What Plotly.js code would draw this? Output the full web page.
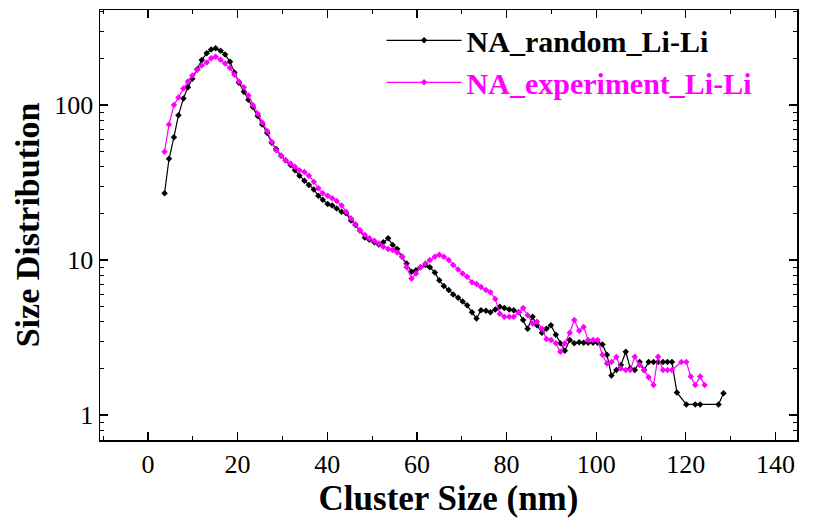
<!DOCTYPE html>
<html>
<head>
<meta charset="utf-8">
<script src="https://cdn.plot.ly/plotly-3.0.1.min.js"></script>
<style>html,body{margin:0;padding:0;background:#fff}#chart{width:820px;height:518px}</style>
</head>
<body>
<div id="chart"></div>
<script>
// NA_random_Li-Li
const randomX = [3.7,4.7,5.8,6.8,7.9,8.9,9.9,11.0,12.0,13.1,14.1,15.1,16.2,17.2,18.3,19.3,20.3,21.4,22.4,23.4,24.5,25.5,26.6,27.6,28.6,29.7,30.7,31.8,32.8,33.8,34.9,35.9,37.0,38.0,39.0,40.1,41.1,42.1,43.2,44.2,45.3,46.3,47.3,48.4,49.4,50.5,51.5,52.5,53.6,54.6,55.6,56.7,57.7,58.8,59.8,60.8,61.9,62.9,64.0,65.0,66.0,67.1,68.1,69.2,70.2,71.2,72.3,73.3,74.3,75.4,76.4,77.5,78.5,79.5,80.6,81.6,82.7,83.7,84.7,85.8,86.8,87.9,88.9,89.9,91.0,92.0,93.0,94.1,95.1,96.2,97.2,98.2,99.3,100.3,101.4,102.4,103.4,104.5,105.5,106.6,107.6,108.6,109.7,110.7,111.7,112.8,113.8,114.9,115.9,116.9,118.0,120.1,122.1,123.2,127.3,128.4];
const randomY = [27,45,62,86,110,130,148,170,195,216,228,232,224,212,190,162,139,122,108,97,85,75,66,57,52,47,44,41,38,35,32.5,30.5,28.5,26,24.5,23,22.5,21.5,20.5,20,18,16.8,15.5,14,13.5,13,12.6,13,13.8,12.5,11.8,10.5,9.5,8.4,8.6,9,9.3,9,8.3,7.4,6.8,6.4,6.0,5.7,5.4,5.1,4.6,4.2,4.75,4.7,4.6,4.8,5.0,4.9,4.8,4.75,4.6,4.1,3.6,4.3,3.8,3.4,3.6,3.8,3.3,2.9,2.6,3.05,2.9,2.95,2.93,2.93,2.93,2.93,2.85,2.45,1.8,1.95,2.1,2.56,2.0,1.95,2.2,1.95,2.2,2.2,2.2,2.2,2.2,2.2,1.4,1.17,1.17,1.17,1.17,1.38];
// NA_experiment_Li-Li
const experimentX = [3.7,4.7,5.8,6.8,7.9,8.9,9.9,11.0,12.0,13.1,14.1,15.1,16.2,17.2,18.3,19.3,20.3,21.4,22.4,23.4,24.5,25.5,26.6,27.6,28.6,29.7,30.7,31.8,32.8,33.8,34.9,35.9,37.0,38.0,39.0,40.1,41.1,42.1,43.2,44.2,45.3,46.3,47.3,48.4,49.4,50.5,51.5,52.5,53.6,54.6,55.6,56.7,57.7,58.8,59.8,60.8,61.9,62.9,64.0,65.0,66.0,67.1,68.1,69.2,70.2,71.2,72.3,73.3,74.3,75.4,76.4,77.5,78.5,79.5,80.6,81.6,82.7,83.7,84.7,85.8,86.8,87.9,88.9,89.9,91.0,92.0,93.0,94.1,95.1,96.2,97.2,98.2,99.3,100.3,101.4,102.4,103.4,104.5,105.5,106.6,107.6,108.6,109.7,110.7,111.7,112.8,113.8,114.9,115.9,116.9,119.0,120.1,121.1,122.1,123.2,124.2];
const experimentY = [50,75,100,112,128,142,155,168,180,188,200,205,196,185,173,157,142,130,115,100,88,77,68,58,51,47,44,42,40,38,37,35,32,29,27,26,25,24,22.5,20.5,18.5,17,15.5,14.5,13.8,13.3,12.8,12.2,11.8,11.6,11.2,10.5,9,7.6,8.2,9.0,9.5,10,10.5,10.8,10.5,10,9.3,8.7,8.2,7.8,7.2,7.0,6.7,6.4,6.2,5.6,4.5,4.3,4.3,4.3,4.6,4.9,4.4,3.9,4.0,3.6,3.1,3.05,2.9,2.56,2.9,3.4,4.1,3.5,3.7,3.05,3.05,3.05,2.45,2.15,2.2,2.37,2.0,1.95,1.95,2.38,2.1,1.95,1.75,1.56,2.38,1.95,1.95,1.95,2.2,2.2,1.77,1.56,1.77,1.56];
const seriesNames = ['NA_random_Li-Li', 'NA_experiment_Li-Li'];
const xTickVals = [0,20,40,60,80,100,120,140];
const yTickVals = [1,10,100];

const serif = 'Liberation Serif, Times New Roman, serif';
const traces = [
  {x: randomX, y: randomY, type: 'scatter', mode: 'lines+markers',
   name: '<b>' + seriesNames[0] + '</b>',
   line: {color: '#000000', width: 1.2},
   marker: {symbol: 'diamond', size: 5, color: '#000000'}},
  {x: experimentX, y: experimentY, type: 'scatter', mode: 'lines+markers',
   name: '<b><span style="color:#ff00ff">' + seriesNames[1] + '</span></b>',
   line: {color: '#ff00ff', width: 1.2},
   marker: {symbol: 'diamond', size: 5, color: '#ff00ff'}}
];

const layout = {
  width: 820, height: 518,
  margin: {l: 100, r: 23, t: 10, b: 78},
  paper_bgcolor: '#ffffff', plot_bgcolor: '#ffffff',
  showlegend: true,
  legend: {x: 0.404, y: 0.99, xanchor: 'left', yanchor: 'top',
    bgcolor: 'rgba(0,0,0,0)', borderwidth: 0,
    font: {family: serif, size: 30, color: '#000000'}, tracegroupgap: 0, itemwidth: 75},
  xaxis: {
    range: [-10.7, 144.8], tickvals: xTickVals, ticktext: xTickVals.map(String),
    ticks: 'inside', ticklen: 8, tickwidth: 1.2, tickcolor: '#000',
    minor: {ticks: 'inside', ticklen: 4, tickwidth: 1, tickcolor: '#000', dtick: 10, tick0: 0, showgrid: false},
    showline: true, linecolor: '#000', linewidth: 1.5, mirror: 'ticks',
    showgrid: false, zeroline: false,
    tickfont: {family: serif, size: 26, color: '#000'},
    title: {text: '<b>Cluster Size (nm)</b>', font: {family: serif, size: 35, color: '#000'}, standoff: 0}
  },
  yaxis: {
    type: 'log', range: [-0.161, 2.613], tickvals: yTickVals, ticktext: yTickVals.map(String),
    ticks: 'inside', ticklen: 8, tickwidth: 1.2, tickcolor: '#000',
    minor: {ticks: 'inside', ticklen: 4, tickwidth: 1, tickcolor: '#000', dtick: 'D1', showgrid: false},
    showline: true, linecolor: '#000', linewidth: 1.5, mirror: 'ticks',
    showgrid: false, zeroline: false,
    tickfont: {family: serif, size: 26, color: '#000'},
    title: {text: '<b>Size Distribution</b>', font: {family: serif, size: 34, color: '#000'}, standoff: 4}
  }
};

Plotly.newPlot('chart', traces, layout, {displayModeBar: false, staticPlot: true});
</script>
</body>
</html>
